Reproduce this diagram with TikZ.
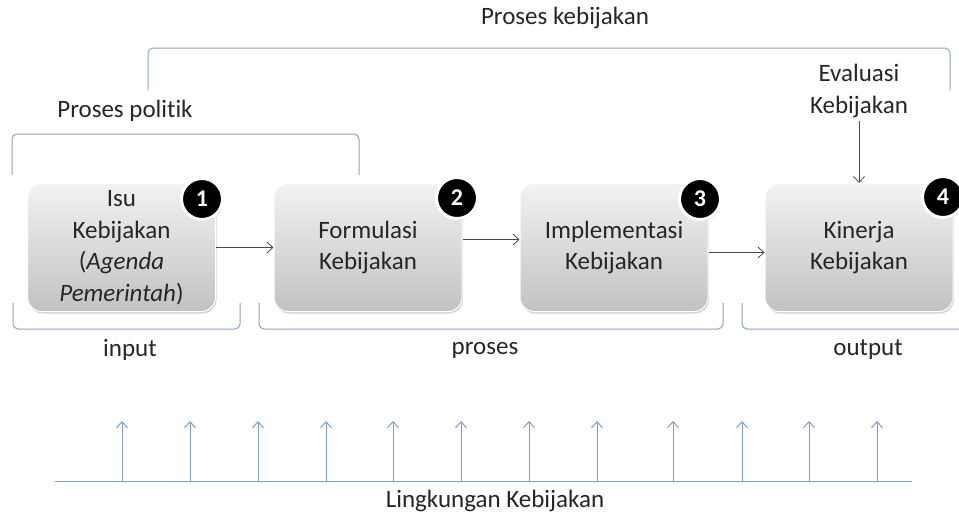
\documentclass[tikz,border=0pt]{standalone}
\usepackage{fontspec}
\setmainfont{Carlito}[Ligatures=NoCommon]
\usetikzlibrary{shadows,arrows.meta}
\definecolor{brk}{HTML}{8CA5C2}
\definecolor{gline}{HTML}{7F9CC8}
\definecolor{arr}{HTML}{4A4A4A}
\definecolor{txt}{HTML}{262626}
\begin{document}
\begin{tikzpicture}[x=1pt,y=-1pt,
  font=\fontsize{25}{31.5}\selectfont,
  stage/.style={rounded corners=14pt, minimum width=188pt, minimum height=128pt,
    top color=gray!10, bottom color=gray!48, draw=white, line width=1pt,
    align=center, text=txt,
    drop shadow={shadow xshift=1pt, shadow yshift=-2pt, opacity=0.35}},
  badge/.style={circle, fill=black, draw=white, line width=3pt, minimum size=41pt,
    inner sep=0pt, text=white, font=\fontsize{24}{24}\selectfont\bfseries,
    drop shadow={shadow xshift=1pt, shadow yshift=-1.5pt, opacity=0.4}},
  brace/.style={draw=brk, line width=1pt, rounded corners=5pt},
  flow/.style={-{Straight Barb[length=6pt,width=11pt]}, draw=arr, line width=0.8pt},
  env/.style={-{Straight Barb[length=6pt,width=11pt]}, draw=gline, line width=1pt},
  lbl/.style={text=txt, align=center}
]
\useasboundingbox (0,0) rectangle (959,515);

% the four stages of the policy cycle
\node[stage] (b1) at (121.5,247.5) {Isu\\Kebijakan\\(\textit{Agenda}\\\textit{Pemerintah})};
\node[stage] (b2) at (368,247.5) {Formulasi\\Kebijakan};
\node[stage] (b3) at (614,247.5) {Implementasi\\Kebijakan};
\node[stage] (b4) at (859,247.5) {Kinerja\\Kebijakan};

% numbered badges on the top right corners
\node[badge] (n1) at (202,199) {1};
\node[badge] (n2) at (457,198) {2};
\node[badge] (n3) at (700,199) {3};
\node[badge] (n4) at (943,197) {4};

% flow between the stages
\draw[flow] (b1.east) -- (b2.west);
\draw[flow] ([yshift=8pt]b2.east) -- ([yshift=8pt]b3.west);
\draw[flow] ([yshift=-5pt]b3.east) -- ([yshift=-5pt]b4.west);

% evaluation feeding into performance
\node[lbl] (ev) at (859,91) {Evaluasi\\Kebijakan};
\draw[flow] (ev.south) -- (ev.south |- b4.north);

% upper brackets
\draw[brace] (148,90) -- (148,48) -- (950,48) -- (950,90);
\node[lbl] (pk) at (565,18) {Proses kebijakan};
\draw[brace] (12,175) -- (12,134) -- (359,134) -- (359,175);
\node[lbl] (pp) at (125,111) {Proses politik};

% lower brackets
\draw[brace] (13,303) -- (13,329) -- (240,329) -- (240,303);
\draw[brace] (259,303) -- (259,329) -- (723,329) -- (723,303);
\draw[brace] (742,303) -- (742,329) -- (962,329);
\node[lbl] (in) at (130,350) {input};
\node[lbl] (pr) at (485,350) {proses};
\node[lbl] (out) at (868,350) {output};

% policy environment acting on the process
\coordinate (gl) at (55,481);
\coordinate (gr) at (912,481);
\draw[draw=gline, line width=1pt] (gl) -- (gr);
\foreach \k/\x in {1/122,2/190,3/258,4/326,5/393,6/461,7/529,8/597,9/673,10/742,11/809,12/877}{
  \coordinate (e\k) at (\x,481);
  \coordinate (t\k) at (\x,421);
  \draw[env] (e\k) -- (t\k);
}
\node[lbl] (lk) at (495,501) {Lingkungan Kebijakan};
\end{tikzpicture}
\end{document}
